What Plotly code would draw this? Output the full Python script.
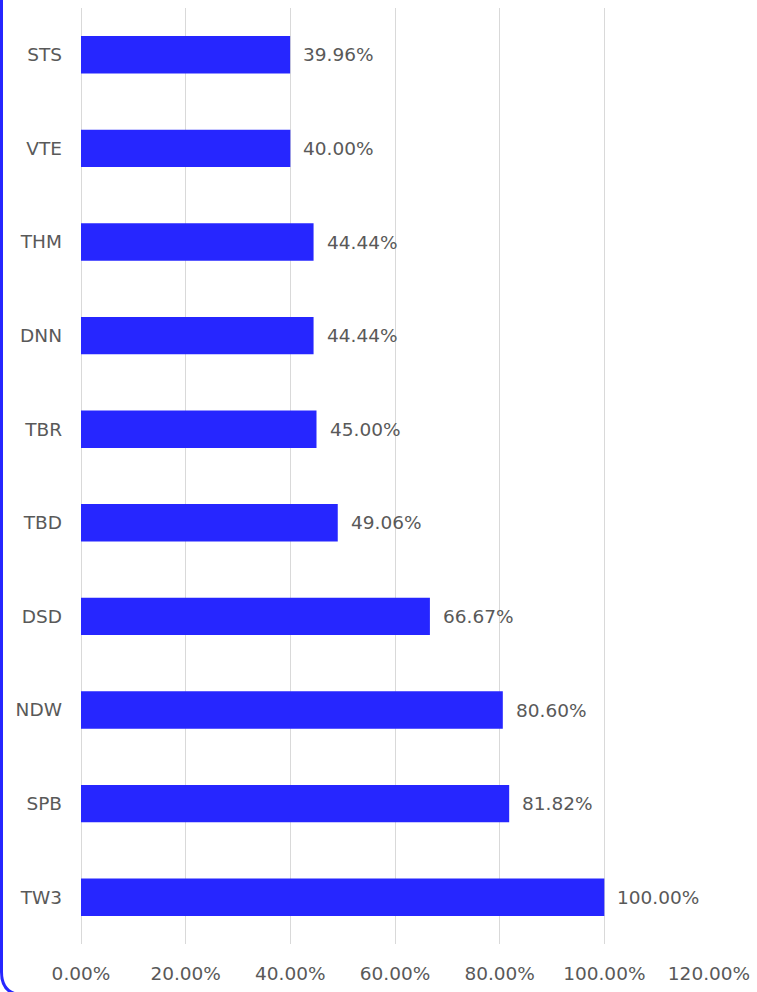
import plotly.graph_objects as go

categories = ["STS", "VTE", "THM", "DNN", "TBR", "TBD", "DSD", "NDW", "SPB", "TW3"]
values = [0.3996, 0.4000, 0.4444, 0.4444, 0.4500, 0.4906, 0.6667, 0.8060, 0.8182, 1.0000]
tick_vals = [0, 0.2, 0.4, 0.6, 0.8, 1.0, 1.2]
tick_text = ["0.00%", "20.00%", "40.00%", "60.00%", "80.00%", "100.00%", "120.00%"]

W, H = 757, 992
ML, MR, MT, MB = 81, 48, 8, 48
FONT = "DejaVu Sans, Verdana, sans-serif"
FS = 18.5
TXT = "#595959"

fig = go.Figure(go.Bar(
    x=values, y=categories, orientation="h",
    marker=dict(color="#2626FF", line=dict(width=0)),
    width=0.4,
))

for c, v in zip(categories, values):
    fig.add_annotation(x=v, y=c, text=f"{v*100:.2f}%", showarrow=False,
                       xanchor="left", yanchor="middle", xshift=11,
                       font=dict(family=FONT, size=FS, color=TXT))

pw, ph = W - ML - MR, H - MT - MB
def px(x): return (x - ML) / pw
def py(y): return (H - MB - y) / ph
path = (f"M {px(1.5)} {py(-10)} L {px(1.5)} {py(972)} "
        f"Q {px(1.5)} {py(995)} {px(24.5)} {py(995)} L {px(800)} {py(995)}")
fig.add_shape(type="path", xref="paper", yref="paper", path=path,
              line=dict(color="#2626FF", width=3))

fig.update_layout(
    width=W, height=H,
    margin=dict(l=ML, r=MR, t=MT, b=MB, autoexpand=False),
    paper_bgcolor="white", plot_bgcolor="white",
    showlegend=False,
    font=dict(family=FONT, size=FS, color=TXT),
    xaxis=dict(range=[0, 1.2], tickvals=tick_vals, ticktext=tick_text,
               showgrid=True, gridcolor="#D9D9D9", gridwidth=1,
               zeroline=True, zerolinecolor="#D9D9D9", zerolinewidth=1,
               showline=False, ticks="", ticklabelstandoff=16, automargin=False,
               tickfont=dict(family=FONT, size=FS, color=TXT), fixedrange=True),
    yaxis=dict(categoryorder="array", categoryarray=categories[::-1],
               showgrid=False, zeroline=False, showline=False, ticks="",
               ticklabelstandoff=18, automargin=False,
               tickfont=dict(family=FONT, size=FS, color=TXT)),
)

fig.write_html("out.html", config={"displayModeBar": False},
               post_script="document.body.style.margin='0px';document.body.style.overflow='hidden';")
